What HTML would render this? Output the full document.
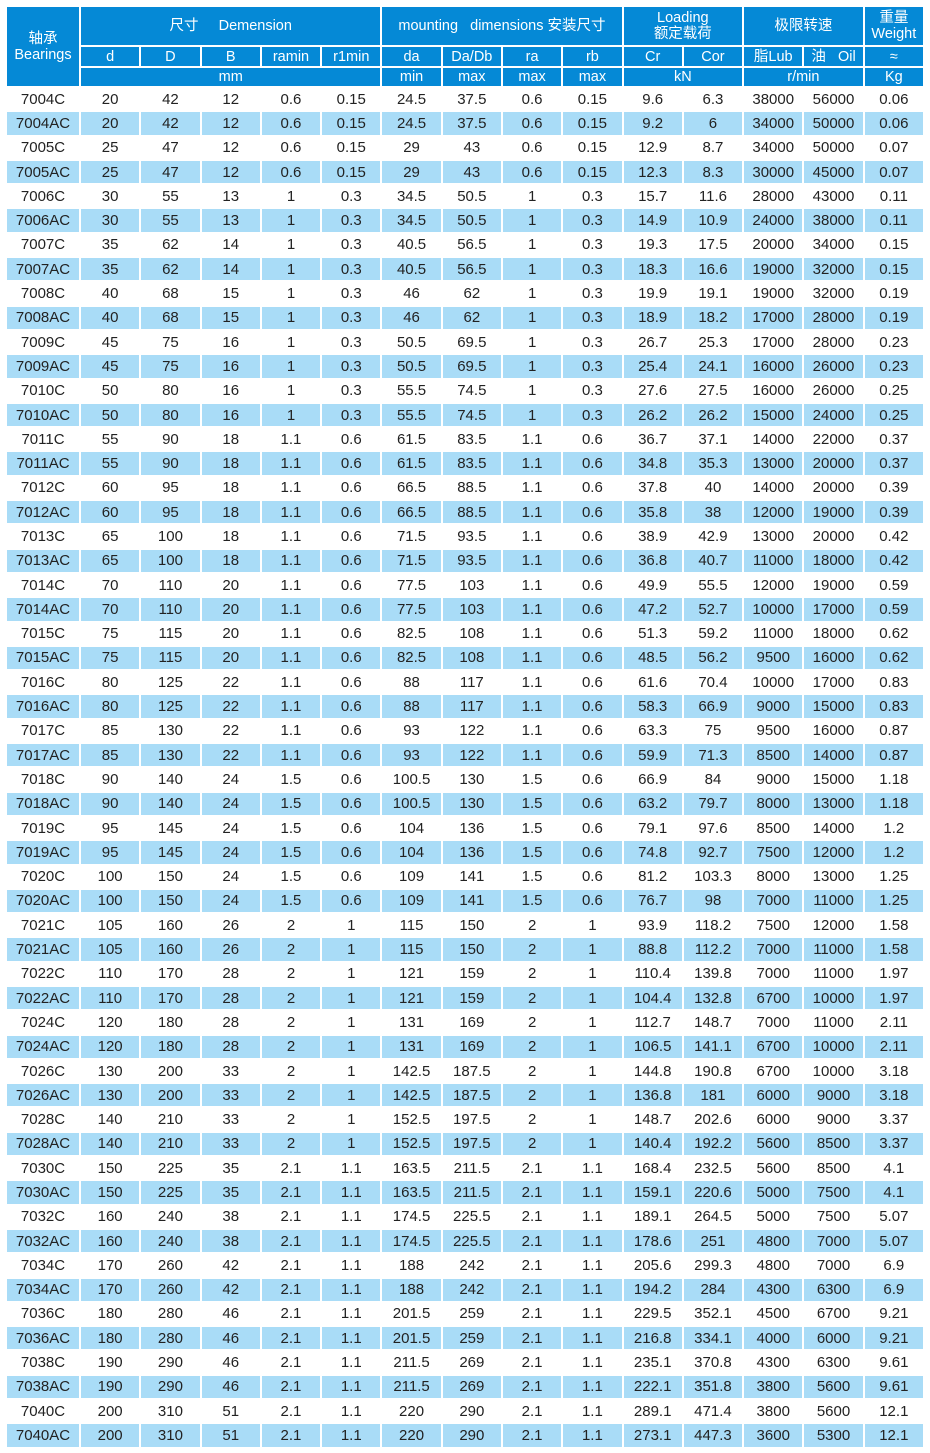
<!DOCTYPE html><html><head><meta charset="utf-8"><style>
body{margin:0;background:#fff;width:930px;height:1453px;overflow:hidden}
table{position:absolute;left:5px;top:5px;width:920px;border-collapse:collapse;table-layout:fixed;font-family:"Liberation Sans","Noto Sans CJK SC",sans-serif;font-size:15px;color:#222}
td{border:2px solid #fff;text-align:center;padding:0;white-space:nowrap;overflow:hidden}
thead td{background:#0589d6;color:#fff;line-height:16px;font-size:14.5px}
tbody tr{height:24.3px}
tbody tr:nth-child(even) td{background:#a9dcf7}
</style></head><body>
<table>
<colgroup><col style="width:74px"><col span="14"></colgroup>
<thead>
<tr style="height:40px"><td rowspan="3">轴承<br>Bearings</td><td colspan="5">尺寸&nbsp;&nbsp;&nbsp;&nbsp;&nbsp;Demension</td><td colspan="4">mounting&nbsp;&nbsp;&nbsp;dimensions 安装尺寸</td><td colspan="2">Loading<br>额定载荷</td><td colspan="2">极限转速</td><td>重量<br>Weight</td></tr>
<tr style="height:21px"><td>d</td><td>D</td><td>B</td><td>ramin</td><td>r1min</td><td>da</td><td>Da/Db</td><td>ra</td><td>rb</td><td>Cr</td><td>Cor</td><td>脂Lub</td><td>油&nbsp;&nbsp;&nbsp;Oil</td><td>≈</td></tr>
<tr style="height:20px"><td colspan="5">mm</td><td>min</td><td>max</td><td>max</td><td>max</td><td colspan="2">kN</td><td colspan="2">r/min</td><td>Kg</td></tr>
</thead>
<tbody id="b"></tbody></table>
<script>
var d=`7004C 20 42 12 0.6 0.15 24.5 37.5 0.6 0.15 9.6 6.3 38000 56000 0.06
7004AC 20 42 12 0.6 0.15 24.5 37.5 0.6 0.15 9.2 6 34000 50000 0.06
7005C 25 47 12 0.6 0.15 29 43 0.6 0.15 12.9 8.7 34000 50000 0.07
7005AC 25 47 12 0.6 0.15 29 43 0.6 0.15 12.3 8.3 30000 45000 0.07
7006C 30 55 13 1 0.3 34.5 50.5 1 0.3 15.7 11.6 28000 43000 0.11
7006AC 30 55 13 1 0.3 34.5 50.5 1 0.3 14.9 10.9 24000 38000 0.11
7007C 35 62 14 1 0.3 40.5 56.5 1 0.3 19.3 17.5 20000 34000 0.15
7007AC 35 62 14 1 0.3 40.5 56.5 1 0.3 18.3 16.6 19000 32000 0.15
7008C 40 68 15 1 0.3 46 62 1 0.3 19.9 19.1 19000 32000 0.19
7008AC 40 68 15 1 0.3 46 62 1 0.3 18.9 18.2 17000 28000 0.19
7009C 45 75 16 1 0.3 50.5 69.5 1 0.3 26.7 25.3 17000 28000 0.23
7009AC 45 75 16 1 0.3 50.5 69.5 1 0.3 25.4 24.1 16000 26000 0.23
7010C 50 80 16 1 0.3 55.5 74.5 1 0.3 27.6 27.5 16000 26000 0.25
7010AC 50 80 16 1 0.3 55.5 74.5 1 0.3 26.2 26.2 15000 24000 0.25
7011C 55 90 18 1.1 0.6 61.5 83.5 1.1 0.6 36.7 37.1 14000 22000 0.37
7011AC 55 90 18 1.1 0.6 61.5 83.5 1.1 0.6 34.8 35.3 13000 20000 0.37
7012C 60 95 18 1.1 0.6 66.5 88.5 1.1 0.6 37.8 40 14000 20000 0.39
7012AC 60 95 18 1.1 0.6 66.5 88.5 1.1 0.6 35.8 38 12000 19000 0.39
7013C 65 100 18 1.1 0.6 71.5 93.5 1.1 0.6 38.9 42.9 13000 20000 0.42
7013AC 65 100 18 1.1 0.6 71.5 93.5 1.1 0.6 36.8 40.7 11000 18000 0.42
7014C 70 110 20 1.1 0.6 77.5 103 1.1 0.6 49.9 55.5 12000 19000 0.59
7014AC 70 110 20 1.1 0.6 77.5 103 1.1 0.6 47.2 52.7 10000 17000 0.59
7015C 75 115 20 1.1 0.6 82.5 108 1.1 0.6 51.3 59.2 11000 18000 0.62
7015AC 75 115 20 1.1 0.6 82.5 108 1.1 0.6 48.5 56.2 9500 16000 0.62
7016C 80 125 22 1.1 0.6 88 117 1.1 0.6 61.6 70.4 10000 17000 0.83
7016AC 80 125 22 1.1 0.6 88 117 1.1 0.6 58.3 66.9 9000 15000 0.83
7017C 85 130 22 1.1 0.6 93 122 1.1 0.6 63.3 75 9500 16000 0.87
7017AC 85 130 22 1.1 0.6 93 122 1.1 0.6 59.9 71.3 8500 14000 0.87
7018C 90 140 24 1.5 0.6 100.5 130 1.5 0.6 66.9 84 9000 15000 1.18
7018AC 90 140 24 1.5 0.6 100.5 130 1.5 0.6 63.2 79.7 8000 13000 1.18
7019C 95 145 24 1.5 0.6 104 136 1.5 0.6 79.1 97.6 8500 14000 1.2
7019AC 95 145 24 1.5 0.6 104 136 1.5 0.6 74.8 92.7 7500 12000 1.2
7020C 100 150 24 1.5 0.6 109 141 1.5 0.6 81.2 103.3 8000 13000 1.25
7020AC 100 150 24 1.5 0.6 109 141 1.5 0.6 76.7 98 7000 11000 1.25
7021C 105 160 26 2 1 115 150 2 1 93.9 118.2 7500 12000 1.58
7021AC 105 160 26 2 1 115 150 2 1 88.8 112.2 7000 11000 1.58
7022C 110 170 28 2 1 121 159 2 1 110.4 139.8 7000 11000 1.97
7022AC 110 170 28 2 1 121 159 2 1 104.4 132.8 6700 10000 1.97
7024C 120 180 28 2 1 131 169 2 1 112.7 148.7 7000 11000 2.11
7024AC 120 180 28 2 1 131 169 2 1 106.5 141.1 6700 10000 2.11
7026C 130 200 33 2 1 142.5 187.5 2 1 144.8 190.8 6700 10000 3.18
7026AC 130 200 33 2 1 142.5 187.5 2 1 136.8 181 6000 9000 3.18
7028C 140 210 33 2 1 152.5 197.5 2 1 148.7 202.6 6000 9000 3.37
7028AC 140 210 33 2 1 152.5 197.5 2 1 140.4 192.2 5600 8500 3.37
7030C 150 225 35 2.1 1.1 163.5 211.5 2.1 1.1 168.4 232.5 5600 8500 4.1
7030AC 150 225 35 2.1 1.1 163.5 211.5 2.1 1.1 159.1 220.6 5000 7500 4.1
7032C 160 240 38 2.1 1.1 174.5 225.5 2.1 1.1 189.1 264.5 5000 7500 5.07
7032AC 160 240 38 2.1 1.1 174.5 225.5 2.1 1.1 178.6 251 4800 7000 5.07
7034C 170 260 42 2.1 1.1 188 242 2.1 1.1 205.6 299.3 4800 7000 6.9
7034AC 170 260 42 2.1 1.1 188 242 2.1 1.1 194.2 284 4300 6300 6.9
7036C 180 280 46 2.1 1.1 201.5 259 2.1 1.1 229.5 352.1 4500 6700 9.21
7036AC 180 280 46 2.1 1.1 201.5 259 2.1 1.1 216.8 334.1 4000 6000 9.21
7038C 190 290 46 2.1 1.1 211.5 269 2.1 1.1 235.1 370.8 4300 6300 9.61
7038AC 190 290 46 2.1 1.1 211.5 269 2.1 1.1 222.1 351.8 3800 5600 9.61
7040C 200 310 51 2.1 1.1 220 290 2.1 1.1 289.1 471.4 3800 5600 12.1
7040AC 200 310 51 2.1 1.1 220 290 2.1 1.1 273.1 447.3 3600 5300 12.1`;
document.getElementById('b').innerHTML=d.split('\n').map(r=>'<tr>'+r.split(' ').map(c=>'<td>'+c+'</td>').join('')+'</tr>').join('');
</script>
</body></html>
